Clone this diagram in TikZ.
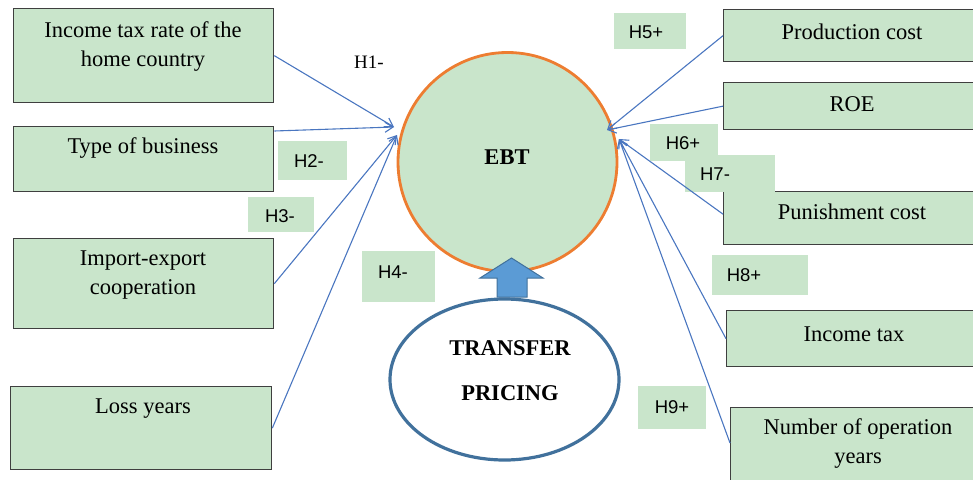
\documentclass[tikz,border=0pt]{standalone}
\usepackage{fontspec}
\setmainfont{Liberation Serif}
\newfontfamily\hypfont{Liberation Sans}
\usetikzlibrary{arrows.meta,shapes.geometric}

\definecolor{boxgreen}{HTML}{C9E5CB}
\definecolor{boxline}{HTML}{3F3F3F}
\definecolor{ringorange}{HTML}{ED7D31}
\definecolor{ovalblue}{HTML}{41719C}
\definecolor{linkblue}{HTML}{4A76C0}
\definecolor{blockblue}{HTML}{5B9BD5}

\tikzset{
  factor/.style={draw=boxline, line width=1.3pt, fill=boxgreen, inner sep=0pt, anchor=north west},
  factortext/.style={font=\fontsize{22.5}{29}\selectfont, align=center, inner sep=0pt},
  hypbox/.style={fill=boxgreen, inner sep=0pt, anchor=north west},
  hyptext/.style={font=\hypfont\fontsize{18.5}{20}\selectfont, inner sep=0pt},
  heading/.style={font=\bfseries\fontsize{22.5}{45}\selectfont, align=center, inner sep=0pt},
  link/.style={draw=linkblue, line width=1.1pt, -{Straight Barb[length=8pt,width=10pt,line width=1.1pt]}},
}

\begin{document}
\begin{tikzpicture}[x=1pt,y=-1pt]
  \useasboundingbox (0,0) rectangle (973,479);
  \clip (0,0) rectangle (973,479);

  % factor boxes, left column
  \node[factor, minimum width=260pt, minimum height=94pt] (b1) at (13,8) {};
  \node[factor, minimum width=260pt, minimum height=65pt] (b2) at (13,126) {};
  \node[factor, minimum width=260pt, minimum height=90pt] (b3) at (13,238) {};
  \node[factor, minimum width=261pt, minimum height=83pt] (b4) at (10,386) {};
  % factor boxes, right column
  \node[factor, minimum width=260pt, minimum height=52pt] (b5) at (723,9) {};
  \node[factor, minimum width=260pt, minimum height=47pt] (b6) at (723,82) {};
  \node[factor, minimum width=260pt, minimum height=53pt] (b7) at (723,191) {};
  \node[factor, minimum width=260pt, minimum height=56pt] (b8) at (726,310) {};
  \node[factor, minimum width=260pt, minimum height=90pt] (b9) at (730,407) {};

  % factor labels
  \node[factortext] (t1) at (143,47) {Income tax rate of the\\home country};
  \node[factortext] (t2) at (143,148) {Type of business};
  \node[factortext] (t3) at (143,275) {Import-export\\cooperation};
  \node[factortext] (t4) at (143,409) {Loss years};
  \node[factortext] (t5) at (852,32) {Production cost};
  \node[factortext] (t6) at (852,104) {ROE};
  \node[factortext] (t7) at (852,212) {Punishment cost};
  \node[factortext] (t8) at (854,334) {Income tax};
  \node[factortext] (t9) at (858,443) {Number of operation\\years};

  % hypothesis tags
  \node[hypbox, minimum width=69pt, minimum height=39pt] (h2box) at (278,141) {};
  \node[hypbox, minimum width=66pt, minimum height=35pt] (h3box) at (248,197) {};
  \node[hypbox, minimum width=73pt, minimum height=51pt] (h4box) at (362,251) {};
  \node[hypbox, minimum width=72pt, minimum height=36pt] (h5box) at (614,13) {};
  \node[hypbox, minimum width=68pt, minimum height=37pt] (h6box) at (650,124) {};
  \node[hypbox, minimum width=90pt, minimum height=37pt] (h7box) at (685,155) {};
  \node[hypbox, minimum width=96pt, minimum height=40pt] (h8box) at (712,255) {};
  \node[hypbox, minimum width=68pt, minimum height=43pt] (h9box) at (638,386) {};

  \node[font=\fontsize{19}{20}\selectfont, inner sep=0pt] (h1) at (369,62) {H1-};
  \node[hyptext] (h2) at (309,161) {H2-};
  \node[hyptext] (h3) at (280,216) {H3-};
  \node[hyptext] (h4) at (393,272) {H4-};
  \node[hyptext] (h5) at (646,32) {H5+};
  \node[hyptext] (h6) at (683,143) {H6+};
  \node[hyptext] (h7) at (715,174) {H7-};
  \node[hyptext] (h8) at (744,275) {H8+};
  \node[hyptext] (h9) at (672,407) {H9+};

  % central outcome
  \node[circle, draw=ringorange, line width=2.8pt, fill=boxgreen, minimum size=219pt, inner sep=0pt] (ebt) at (507.5,162) {};
  \node[heading] (ebtlabel) at (507,157) {EBT};

  % transfer pricing oval and block arrow
  \node[ellipse, draw=ovalblue, line width=3.2pt, fill=white, minimum width=229pt, minimum height=161pt,
        inner sep=0pt] (tp) at (504.5,379.5) {};
  \node[heading] (tplabel) at (510,371) {TRANSFER\\PRICING};
  \draw[fill=blockblue, draw=ovalblue, line width=1pt, line join=miter]
    (497,297) -- (497,278) -- (480,278) -- (511.5,258) -- (543,278) -- (527,278) -- (527,297) -- cycle;

  % arrow targets at the rim of the outcome circle
  \coordinate (inL1) at (394,127);
  \coordinate (inL2) at (397,135);
  \coordinate (inR1) at (607,130);
  \coordinate (inR2) at (619,139);

  % links
  \draw[link] (b1.east) -- (inL1);
  \draw[link] ([yshift=-5pt]b2.north east) -- (inL1);
  \draw[link] (b3.east) -- (inL2);
  \draw[link] (b4.east) -- (inL2);
  \draw[link] (b5.west) -- (inR1);
  \draw[link] (b6.west) -- (inR1);
  \draw[link] ([yshift=4pt]b7.west) -- (inR2);
  \draw[link] (b8.west) -- (inR2);
  \draw[link] ([yshift=-36pt]b9.north west) -- (inR2);
\end{tikzpicture}
\end{document}
